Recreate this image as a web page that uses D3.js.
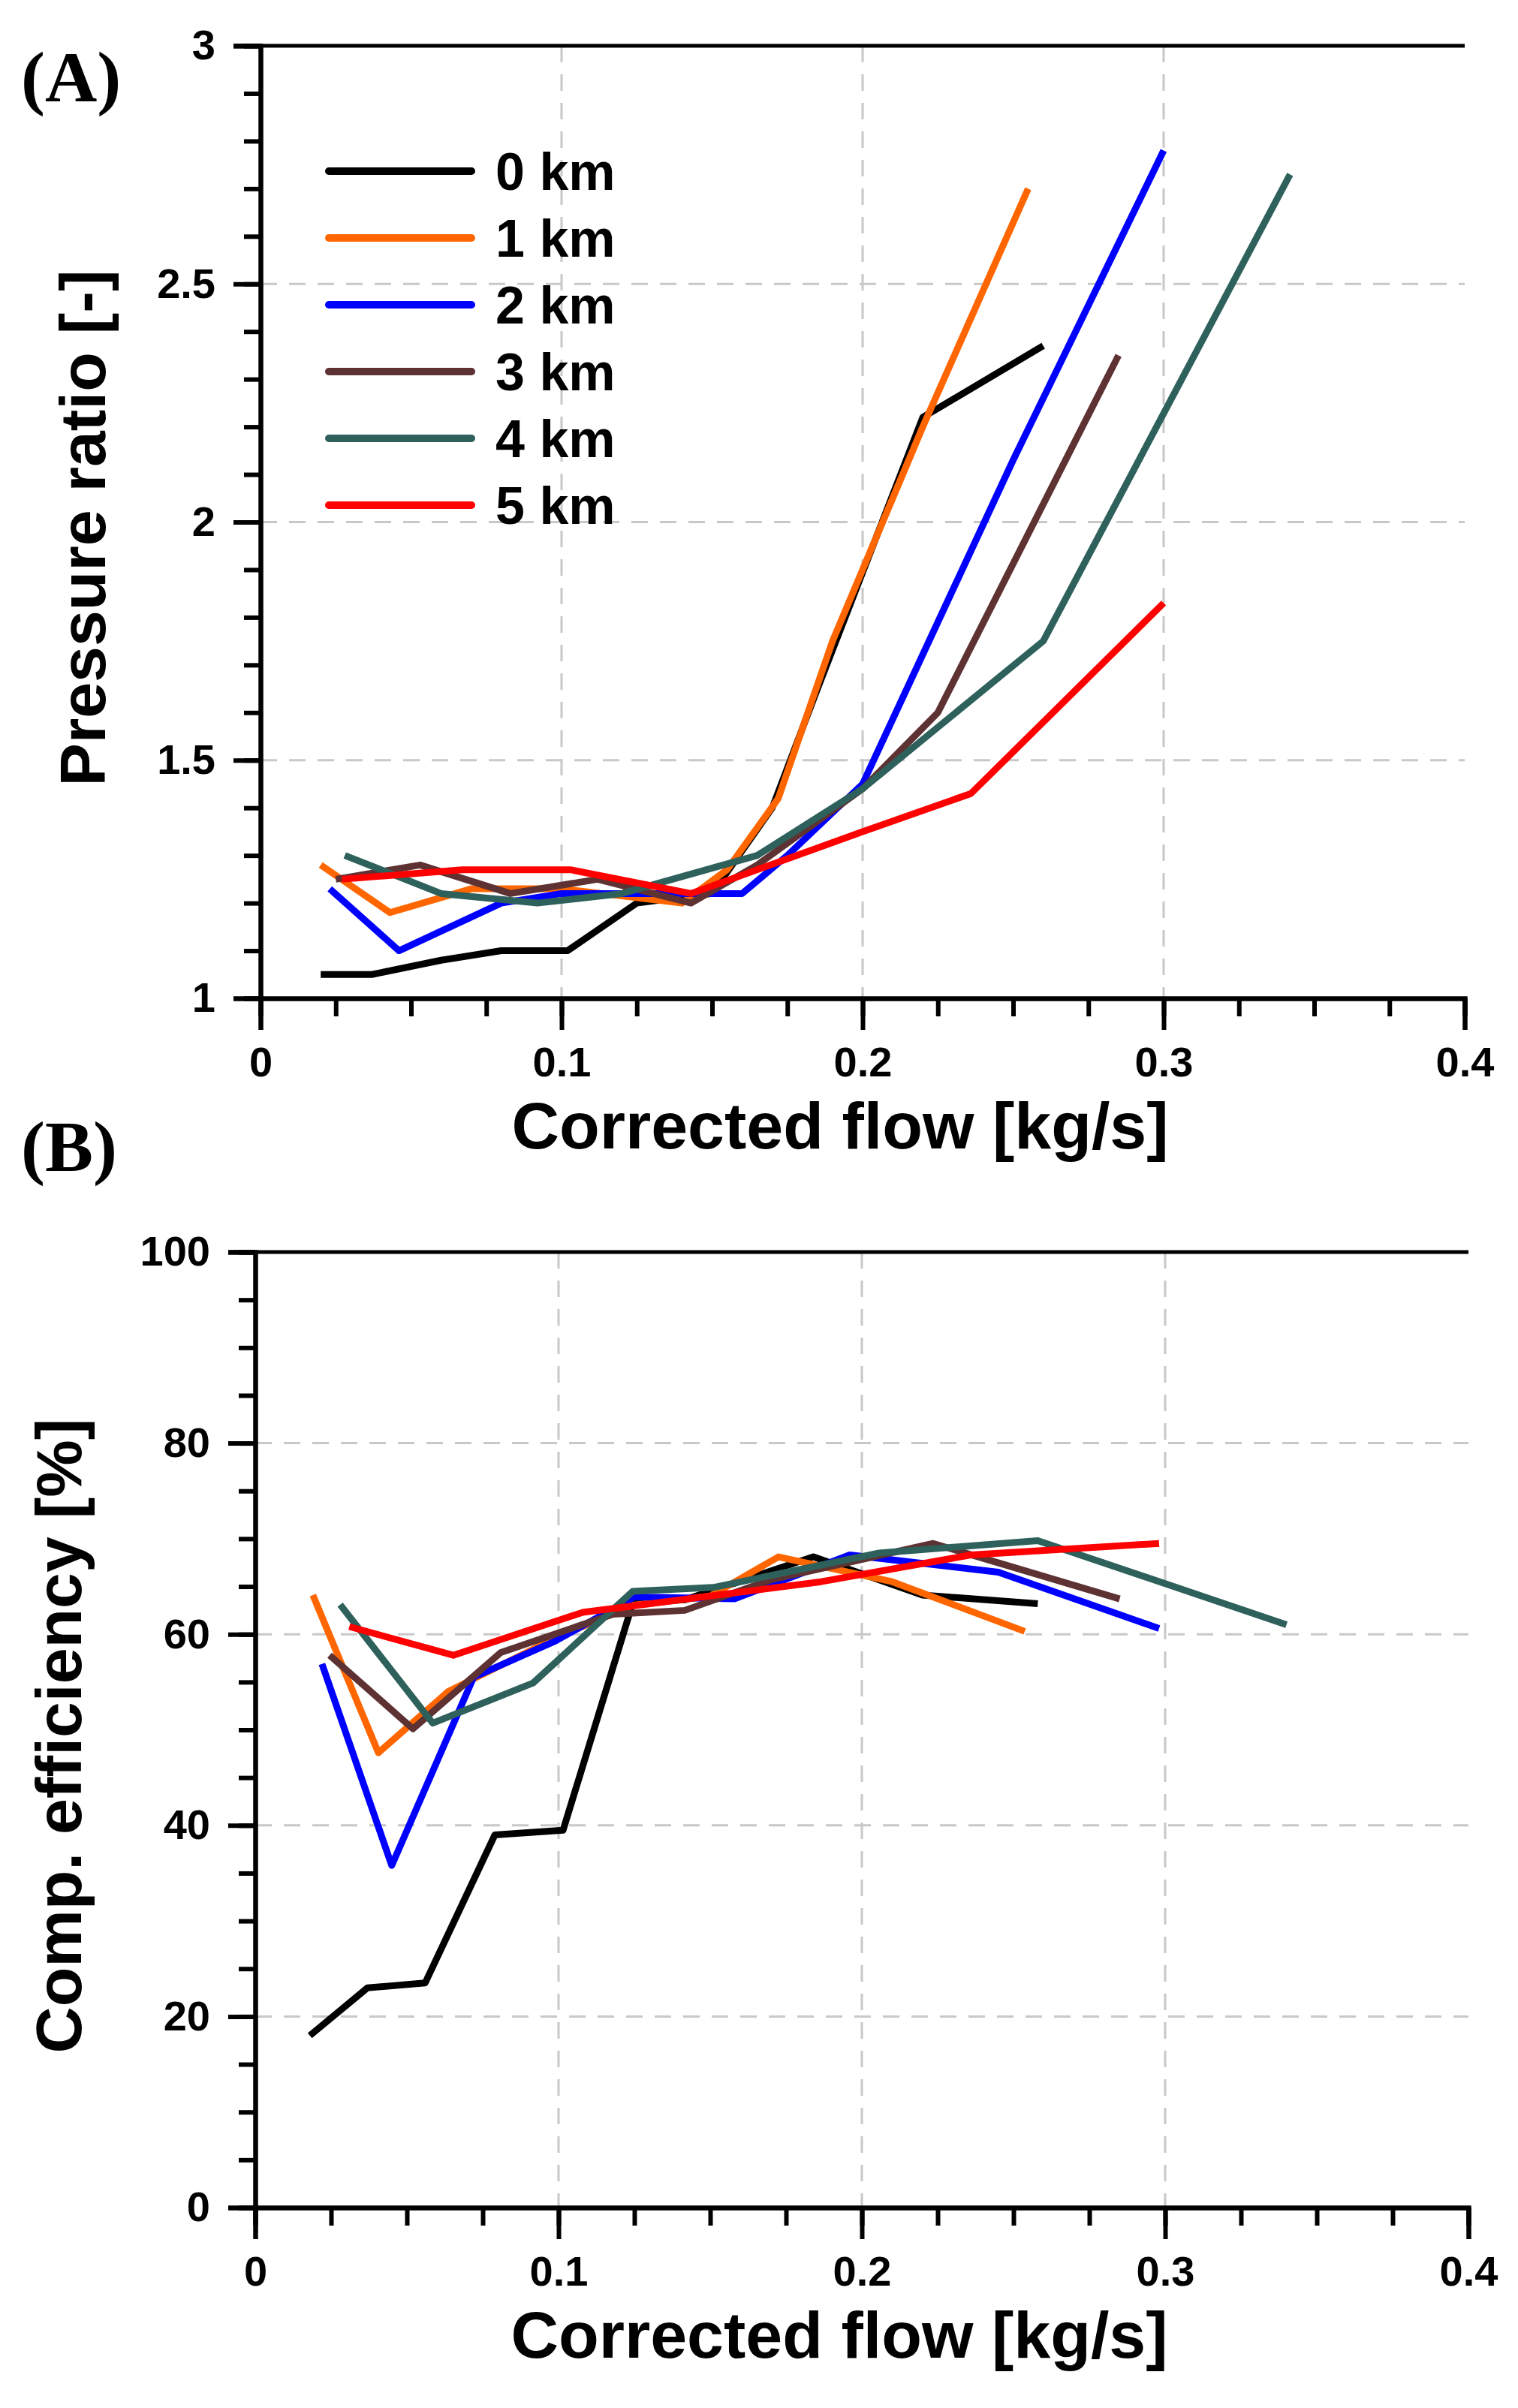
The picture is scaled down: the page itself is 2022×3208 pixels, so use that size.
<!DOCTYPE html><html><head><meta charset="utf-8"><script src="https://cdn.jsdelivr.net/npm/d3@7"></script>
<style>body{margin:0;background:#fff}</style></head><body><svg id="c" width="2022" height="3208"></svg>
<script>
const names=["0 km","1 km","2 km","3 km","4 km","5 km"];
const colors=["#000000","#ff6600","#0000ff","#5e3232","#2e605c","#ff0000"];
const prA=[
[[0.02,1.05],[0.037,1.05],[0.06,1.08],[0.08,1.10],[0.102,1.10],[0.125,1.2],[0.15,1.22],[0.17,1.4],[0.185,1.65],[0.22,2.22],[0.26,2.37]],
[[0.02,1.28],[0.043,1.18],[0.07,1.23],[0.1,1.23],[0.14,1.2],[0.155,1.27],[0.172,1.42],[0.19,1.75],[0.22,2.2],[0.255,2.7]],
[[0.023,1.23],[0.046,1.10],[0.08,1.2],[0.1,1.22],[0.14,1.22],[0.16,1.22],[0.175,1.3],[0.2,1.45],[0.25,2.13],[0.3,2.78]],
[[0.025,1.25],[0.053,1.28],[0.083,1.22],[0.112,1.25],[0.143,1.2],[0.165,1.28],[0.2,1.44],[0.225,1.6],[0.285,2.35]],
[[0.028,1.3],[0.06,1.22],[0.092,1.2],[0.12,1.22],[0.165,1.3],[0.2,1.44],[0.26,1.75],[0.342,2.73]],
[[0.027,1.25],[0.067,1.27],[0.103,1.27],[0.143,1.22],[0.2,1.35],[0.236,1.43],[0.3,1.83]]];
const effB=[
[[0.018,18],[0.037,23],[0.056,23.5],[0.079,39],[0.1015,39.5],[0.1245,63.3],[0.1416,63.6],[0.184,68.1],[0.22,64.1],[0.258,63.2]],
[[0.019,64.1],[0.0406,47.6],[0.0636,54],[0.099,59.6],[0.124,63],[0.15,64],[0.1725,68.1],[0.21,65.5],[0.2537,60.3]],
[[0.022,56.9],[0.045,35.8],[0.072,55.5],[0.099,59.3],[0.125,63.9],[0.158,63.7],[0.196,68.3],[0.245,66.5],[0.298,60.6]],
[[0.0245,57.8],[0.052,50.1],[0.081,58.1],[0.118,62.1],[0.1416,62.5],[0.17,65.7],[0.2235,69.5],[0.285,63.7]],
[[0.028,63.1],[0.0585,50.7],[0.0916,54.9],[0.1245,64.5],[0.151,64.9],[0.2057,68.5],[0.258,69.8],[0.34,61]],
[[0.031,60.8],[0.0653,57.8],[0.108,62.3],[0.1866,65.5],[0.236,68.3],[0.298,69.5]]];
const xTicks=[0,0.1,0.2,0.3,0.4];
const yTicksA=[1,1.5,2,2.5,3];
const yTicksB=[0,20,40,60,80,100];
const svg=d3.select("#c");
const F="Liberation Sans, Arial, sans-serif";
function panel(o){
 const x=d3.scaleLinear().domain([0,0.4]).range([o.l,o.r]);
 const y=d3.scaleLinear().domain(o.yd).range([o.b,o.t]);
 const g=svg.append("g");
 xTicks.slice(1,-1).forEach(v=>g.append("line").attr("x1",x(v)).attr("x2",x(v)).attr("y1",o.t).attr("y2",o.b).attr("stroke","#c8c8c8").attr("stroke-width",3).attr("stroke-dasharray","22,16"));
 o.yt.slice(1,-1).forEach(v=>g.append("line").attr("x1",o.l).attr("x2",o.r).attr("y1",y(v)).attr("y2",y(v)).attr("stroke","#c8c8c8").attr("stroke-width",3).attr("stroke-dasharray","22,16"));
 const ln=d3.line().x(d=>x(d[0])).y(d=>y(d[1]));
 o.data.forEach((s,i)=>g.append("path").attr("d",ln(s)).attr("fill","none").attr("stroke",colors[i]).attr("stroke-width",9).attr("stroke-linejoin","round"));
 g.append("g").attr("transform",`translate(0,${o.b})`).call(d3.axisBottom(x).tickValues(d3.range(0,0.4001,0.025)).tickSize(24).tickFormat(""));
 g.append("g").attr("transform",`translate(0,${o.b})`).call(d3.axisBottom(x).tickValues(xTicks).tickSize(42).tickPadding(22).tickFormat(d=>d===0?"0":d3.format(".1f")(d)));
 g.append("g").attr("transform",`translate(${o.l},0)`).call(d3.axisLeft(y).tickValues(d3.range(o.yd[0],o.yd[1]+1e-6,o.minor)).tickSize(22).tickFormat(""));
 g.append("g").attr("transform",`translate(${o.l},0)`).call(d3.axisLeft(y).tickValues(o.yt).tickSize(36).tickPadding(24).tickFormat(o.fmt));
 g.selectAll(".domain").attr("stroke","#000").attr("stroke-width",6);
 g.selectAll(".tick line").attr("stroke","#000").attr("stroke-width",6);
 g.selectAll(".tick text").attr("font-family",F).attr("font-weight","bold").attr("font-size",56).attr("fill","#000");
 g.append("line").attr("x1",o.l-36).attr("x2",o.r).attr("y1",o.t).attr("y2",o.t).attr("stroke","#000").attr("stroke-width",5);
 g.append("text").attr("x",(o.l+o.r)/2-30).attr("y",o.b+200).attr("text-anchor","middle").attr("font-family",F).attr("font-weight","bold").attr("font-size",88).text("Corrected flow [kg/s]");
 g.append("text").attr("transform",`translate(${o.ytx},${(o.t+o.b)/2+8}) rotate(-90)`).attr("text-anchor","middle").attr("font-family",F).attr("font-weight","bold").attr("font-size",86).text(o.ytitle);
 g.append("text").attr("x",28).attr("y",o.lab).attr("font-family","Liberation Serif, serif").attr("font-weight","bold").attr("font-size",96).text(o.label);
}
panel({l:347,r:1951,t:61,b:1330,yd:[1,3],yt:yTicksA,minor:0.1,fmt:d=>d3.format("")(d),data:prA,ytitle:"Pressure ratio [-]",ytx:140,label:"(A)",lab:135});
panel({l:340,r:1956,t:1668,b:2941,yd:[0,100],yt:yTicksB,minor:5,fmt:d=>d,data:effB,ytitle:"Comp. efficiency [%]",ytx:108,label:"(B)",lab:1560});
names.forEach((n,i)=>{
 const yy=228+i*89;
 svg.append("line").attr("x1",438).attr("x2",628).attr("y1",yy).attr("y2",yy).attr("stroke",colors[i]).attr("stroke-width",10).attr("stroke-linecap","round");
 svg.append("text").attr("x",660).attr("y",yy+25).attr("font-family",F).attr("font-weight","bold").attr("font-size",70).text(n);
});
</script></body></html>
